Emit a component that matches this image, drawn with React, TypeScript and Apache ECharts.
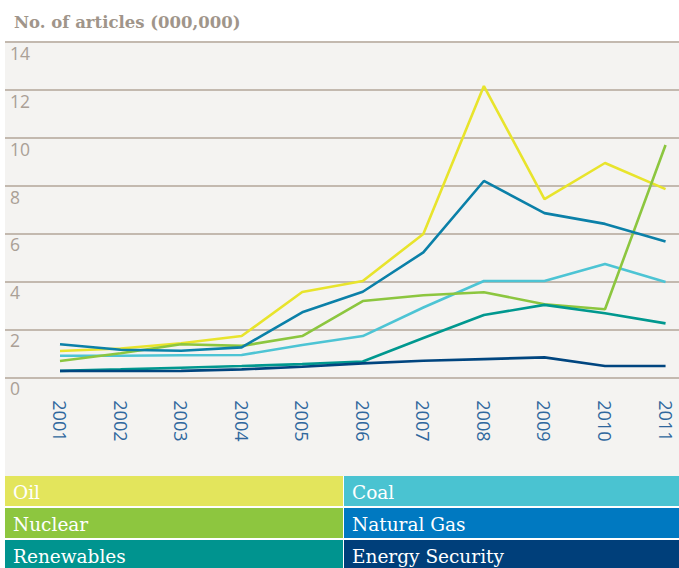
import React, { useEffect, useRef } from "react";
import * as echarts from "echarts";

const years = [2001, 2002, 2003, 2004, 2005, 2006, 2007, 2008, 2009, 2010, 2011];
const oil = [1.1, 1.2, 1.42, 1.72, 3.56, 4.02, 5.98, 12.15, 7.43, 8.94, 7.85];
const coal = [0.9, 0.9, 0.92, 0.93, 1.35, 1.72, 2.91, 4.02, 4.02, 4.73, 3.98];
const nuclear = [0.68, 1.0, 1.38, 1.31, 1.72, 3.18, 3.42, 3.55, 3.05, 2.84, 9.69];
const naturalGas = [1.38, 1.15, 1.11, 1.25, 2.71, 3.57, 5.21, 8.19, 6.85, 6.4, 5.67];
const renewables = [0.27, 0.33, 0.4, 0.47, 0.55, 0.66, 1.64, 2.6, 3.02, 2.67, 2.25];
const energySecurity = [0.26, 0.26, 0.27, 0.33, 0.44, 0.58, 0.69, 0.76, 0.83, 0.47, 0.47];

const seriesNames = ["Oil", "Coal", "Nuclear", "Natural Gas", "Renewables", "Energy Security"];
const seriesValues = [oil, coal, nuclear, naturalGas, renewables, energySecurity];
const lineColors = ["#e8e42c", "#4dc4d4", "#8cc63f", "#0b80a8", "#00988f", "#00457f"];
const legendColors = ["#e3e55c", "#4ac3d1", "#8dc63f", "#0079c1", "#00948f", "#003f7a"];

const titleText = "No. of articles (000,000)";
const yMin = 0;
const yMax = 14;
const yStep = 2;

export default function App() {
  const ref = useRef<HTMLDivElement>(null);

  useEffect(() => {
    if (!ref.current) return;
    const chart = echarts.init(ref.current, null, { renderer: "svg" });

    const W = 679;
    const gridLeft = 5;
    const gridTop = 41.7;
    const zeroY = 377.3;
    const firstX = 60;
    const pxPerYear = (605 - 60) / 9;
    const xMin = years[0] - (firstX - gridLeft) / pxPerYear;
    const xMax = xMin + (W - gridLeft) / pxPerYear;

    const legendTop = 476;
    const rowH = 30;
    const rowGap = 2;
    const cols = [
      { x: 5, w: 338 },
      { x: 344, w: 335 },
    ];
    const legendEls: any[] = [];
    seriesNames.forEach((name, i) => {
      const col = cols[i % 2];
      const row = Math.floor(i / 2);
      const y = legendTop + row * (rowH + rowGap);
      legendEls.push({
        type: "rect",
        shape: { x: col.x, y, width: col.w, height: rowH },
        style: { fill: legendColors[i] },
        silent: true,
      });
      legendEls.push({
        type: "text",
        x: col.x + 8,
        y: y + rowH / 2 + 1,
        style: {
          text: name,
          fill: "#ffffff",
          fontFamily: "DejaVu Serif",
          fontSize: 18.5,
          verticalAlign: "middle",
          align: "left",
        },
        silent: true,
      });
    });

    chart.setOption({
      animation: false,
      backgroundColor: "#ffffff",
      title: {
        text: titleText,
        left: 9,
        top: 9,
        textStyle: {
          fontFamily: "DejaVu Serif",
          fontWeight: "bold",
          fontSize: 16.5,
          color: "#a0958a",
        },
      },
      graphic: [
        {
          type: "rect",
          z: -10,
          shape: { x: 5, y: 41, width: W - 5, height: legendTop - 41 },
          style: { fill: "#f4f3f1" },
          silent: true,
        },
        ...legendEls,
      ],
      grid: {
        left: gridLeft,
        right: 0,
        top: gridTop,
        bottom: 568 - zeroY,
        containLabel: false,
      },
      xAxis: {
        type: "value",
        min: xMin,
        max: xMax,
        axisLine: { show: false },
        axisTick: { show: false },
        splitLine: { show: false },
        axisLabel: {
          customValues: years,
          rotate: -90,
          margin: 23,
          color: "#2f679d",
          fontFamily: "Open Sans",
          fontSize: 18,
          formatter: (v: number) => String(Math.round(v)),
        },
      },
      yAxis: {
        type: "value",
        min: yMin,
        max: yMax,
        interval: yStep,
        axisLine: { show: false },
        axisTick: { show: false },
        splitLine: { show: true, lineStyle: { color: "#c3b9af", width: 2 } },
        axisLabel: {
          inside: true,
          margin: 5,
          align: "left",
          verticalAlign: "top",
          padding: [2, 0, 0, 0],
          color: "#aaa096",
          fontFamily: "Open Sans",
          fontSize: 17.5,
        },
      },
      series: seriesNames.map((name, i) => ({
        name,
        type: "line",
        data: years.map((y, j) => [y, seriesValues[i][j]]),
        showSymbol: false,
        symbol: "none",
        clip: true,
        lineStyle: { color: lineColors[i], width: 2.6 },
        itemStyle: { color: lineColors[i] },
      })),
    });

    return () => chart.dispose();
  }, []);

  return (
    <div
      ref={ref}
      style={{ position: "fixed", left: 0, top: 0, width: 679, height: 568 }}
    />
  );
}
